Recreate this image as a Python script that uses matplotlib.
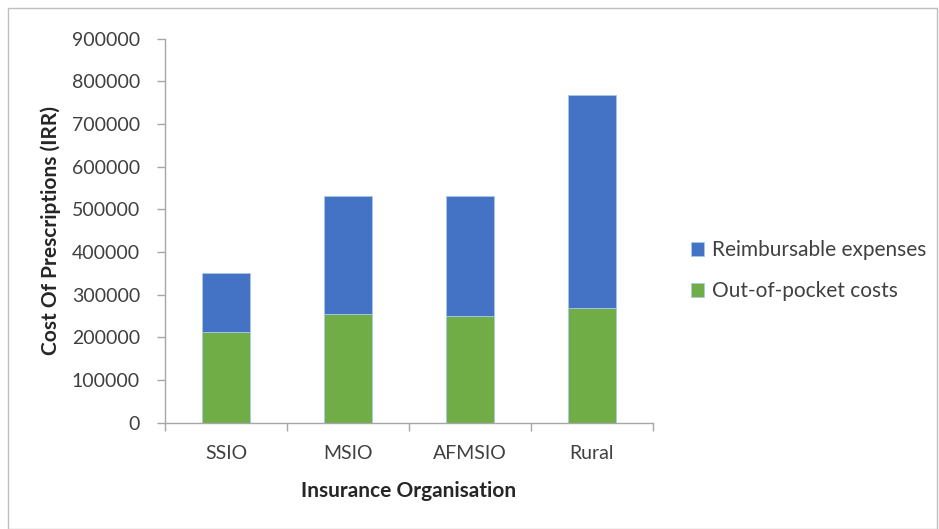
#!/usr/bin/env python
"""
stacked bar chart of prescription costs by insurance organisation
"""

import numpy as np
import matplotlib
import matplotlib.pyplot as plt
import matplotlib.patches as mpa

# data
organisations = ['SSIO', 'MSIO', 'AFMSIO', 'Rural']
out_of_pocket = [213000, 254000, 250000, 269000]
reimbursable = [137000, 278000, 282000, 499000]
y_ticks = [0, 100000, 200000, 300000, 400000, 500000, 600000, 700000, 800000, 900000]

blue = '#4472C4'
green = '#70AD47'
grey = '#A6A6A6'

params = {
        'font.family': ['Lato', 'DejaVu Sans'],
        'font.size': 14,
        'text.color': '#404040',
        }
matplotlib.rcParams.update(params)

fig = plt.figure(figsize=(9.39, 5.29), dpi=100)
ax = fig.add_axes([0.1757, 0.2013, 0.5197, 0.7259])

x = np.arange(len(organisations))
ax.bar(x, out_of_pocket, width=0.4, color=green, edgecolor='#A9C9E8',
       linewidth=0.6, label='Out-of-pocket costs')
ax.bar(x, reimbursable, width=0.4, bottom=out_of_pocket, color=blue,
       edgecolor='#A9C9E8', linewidth=0.6, label='Reimbursable expenses')

ax.set_xlim(-0.5, len(organisations) - 0.5)
ax.set_ylim(0, 900000)
ax.set_yticks(y_ticks)
ax.set_yticklabels([str(v) for v in y_ticks], fontsize=14, color='#404040')

# category labels centred, tick marks on category boundaries
ax.set_xticks(x)
ax.set_xticklabels(organisations, fontsize=14, color='#404040')
ax.set_xticks(np.arange(len(organisations) + 1) - 0.5, minor=True)
ax.tick_params(axis='x', which='major', length=0, pad=16)
ax.tick_params(axis='x', which='minor', length=6, color=grey, width=1)
ax.tick_params(axis='y', length=6, color=grey, width=1, pad=12)

for side in ['top', 'right']:
    ax.spines[side].set_visible(False)
for side in ['left', 'bottom']:
    ax.spines[side].set_color(grey)
    ax.spines[side].set_linewidth(1)

ax.set_ylabel('Cost Of Prescriptions (IRR)', fontsize=15, fontweight='bold',
              color='#262626', labelpad=8)
ax.set_xlabel('Insurance Organisation', fontsize=15, fontweight='bold',
              color='#262626', labelpad=14)

handles, labels = ax.get_legend_handles_labels()
ax.legend(handles[::-1], labels[::-1], loc='center left',
          bbox_to_anchor=(1.04, 0.395), frameon=False, fontsize=15,
          handlelength=0.6, handleheight=0.6, handletextpad=0.4,
          labelspacing=1.0)

# outer frame
frame = mpa.Rectangle((8 / 939, 0), 929 / 939, 521 / 529,
                      transform=fig.transFigure, fill=False,
                      edgecolor='#BFBFBF', linewidth=1)
fig.patches.append(frame)

fig.savefig('out.png', dpi=100)
